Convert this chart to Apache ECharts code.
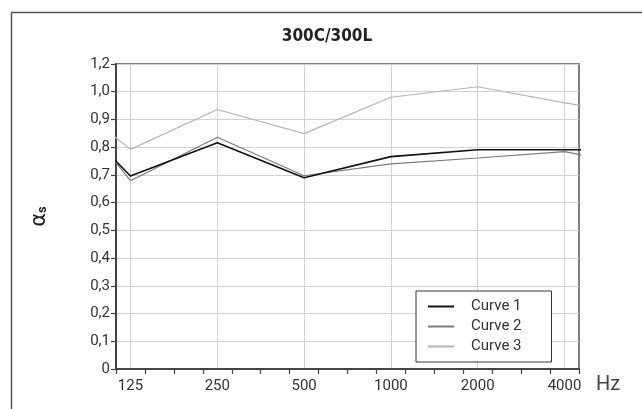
<!DOCTYPE html>
<html>
<head>
<meta charset="utf-8">
<script src="https://cdn.jsdelivr.net/npm/echarts@6/dist/echarts.min.js"></script>
<style>
html,body{margin:0;padding:0;background:#fff;}
#chart{width:642px;height:409px;}
</style>
</head>
<body>
<div id="chart"></div>
<script>
// ---- data ----
const titleText = '300C/300L';
const freqs = [100, 125, 250, 500, 1000, 2000, 4000, 5000];
const curve1 = [0.800, 0.696, 0.816, 0.690, 0.766, 0.791, 0.791, 0.791];
const curve2 = [0.805, 0.679, 0.836, 0.697, 0.740, 0.761, 0.784, 0.764];
const curve3 = [0.872, 0.792, 0.936, 0.849, 0.980, 1.018, 0.960, 0.944];
const seriesNames = ['Curve 1', 'Curve 2', 'Curve 3'];
const xTickLabels = ['125', '250', '500', '1000', '2000', '4000'];
const yTickLabels = ['0', '0,1', '0,2', '0,3', '0,4', '0,5', '0,6', '0,7', '0,8', '0,9', '1,0', '1,2'];

// ---- axis helpers (octaves relative to 125 Hz) ----
const baseF = 125;
const oct = f => Math.log2(f / baseF);
const xMin = -1 / 6, xMax = 5 + 1 / 6;
const octaveVals = xTickLabels.map(l => oct(Number(l)));
const thirdVals = [];
for (let k = 0; k <= 16; k++) thirdVals.push(k === 16 ? xMax : xMin + k / 3);

const mk = arr => freqs.map((f, i) => [oct(f), arr[i]]);

const font = 'Roboto, "Liberation Sans", sans-serif';
const dark = '#444';

const chart = echarts.init(document.getElementById('chart'));
chart.setOption({
  animation: false,
  backgroundColor: '#fff',
  title: {
    text: titleText,
    left: 322, textAlign: 'center', top: 23,
    textStyle: { fontFamily: '"Liberation Sans Narrow", "DejaVu Sans Condensed", sans-serif', fontWeight: 'bold', fontSize: 17, color: '#222' }
  },
  graphic: [{
    type: 'rect', left: 9, top: 10, silent: true,
    shape: { width: 700, height: 500 },
    style: { fill: 'none', stroke: '#555', lineWidth: 1.5 }
  }],
  grid: { left: 116, top: 64, right: 63, bottom: 40, show: true, borderColor: '#555', borderWidth: 1.5, backgroundColor: 'transparent' },
  legend: {
    orient: 'vertical', left: 416, top: 291,
    padding: [8, 30, 8, 11], itemGap: 5, itemWidth: 26, itemHeight: 14,
    borderColor: '#333', borderWidth: 1, backgroundColor: '#fff',
    itemStyle: { opacity: 0 },
    textStyle: { fontFamily: font, fontSize: 15, color: '#333', lineHeight: 14, padding: [0, 0, 0, 12] },
    data: seriesNames
  },
  xAxis: [{
    type: 'value', min: xMin, max: xMax, position: 'bottom',
    name: 'Hz', nameLocation: 'end', nameGap: 17,
    nameTextStyle: { fontFamily: font, fontSize: 20, color: dark, verticalAlign: 'top', padding: [6, 0, 0, 0] },
    axisLine: { show: true, onZero: false, lineStyle: { color: dark, width: 2 } },
    axisTick: { show: true, inside: false, length: 5, customValues: thirdVals, lineStyle: { color: dark, width: 1.2 } },
    axisLabel: { customValues: octaveVals, margin: 10, fontFamily: font, fontSize: 15, color: '#333',
      formatter: v => xTickLabels[Math.round(v)] },
    splitLine: { show: false }
  }, {
    type: 'value', min: xMin, max: xMax, position: 'bottom',
    axisLine: { show: false },
    axisTick: { show: false, customValues: octaveVals },
    axisLabel: { show: false },
    splitLine: { show: true, customValues: octaveVals, lineStyle: { color: '#d2d2d2', width: 1 } }
  }],
  yAxis: {
    type: 'value', min: 0, max: 1.1, interval: 0.1,
    name: '{a|α}{s|s}', nameLocation: 'middle', nameRotate: 90, nameGap: 66,
    nameTextStyle: { rich: { a: { fontFamily: '"DejaVu Sans", sans-serif', fontSize: 21, color: '#222' }, s: { fontFamily: font, fontSize: 13, fontWeight: 'bold', color: '#222', padding: [7, 0, 0, 0] } } },
    axisLine: { show: true, onZero: false, lineStyle: { color: dark, width: 2 } },
    axisTick: { show: true, inside: false, length: 5, lineStyle: { color: dark, width: 1.2 } },
    axisLabel: { margin: 6, fontFamily: font, fontSize: 15, color: '#333',
      formatter: v => yTickLabels[Math.round(v * 10)] },
    splitLine: { show: true, lineStyle: { color: '#d2d2d2', width: 1 } }
  },
  series: [
    { name: seriesNames[0], type: 'line', data: mk(curve1), symbol: 'none', clip: true, color: '#111', lineStyle: { color: '#111', width: 1.6 }, z: 5 },
    { name: seriesNames[1], type: 'line', data: mk(curve2), symbol: 'none', clip: true, color: '#7a7a7a', lineStyle: { color: '#7a7a7a', width: 1.2 }, z: 4 },
    { name: seriesNames[2], type: 'line', data: mk(curve3), symbol: 'none', clip: true, color: '#b4b4b4', lineStyle: { color: '#b4b4b4', width: 1.2 }, z: 3 }
  ]
});
</script>
</body>
</html>
